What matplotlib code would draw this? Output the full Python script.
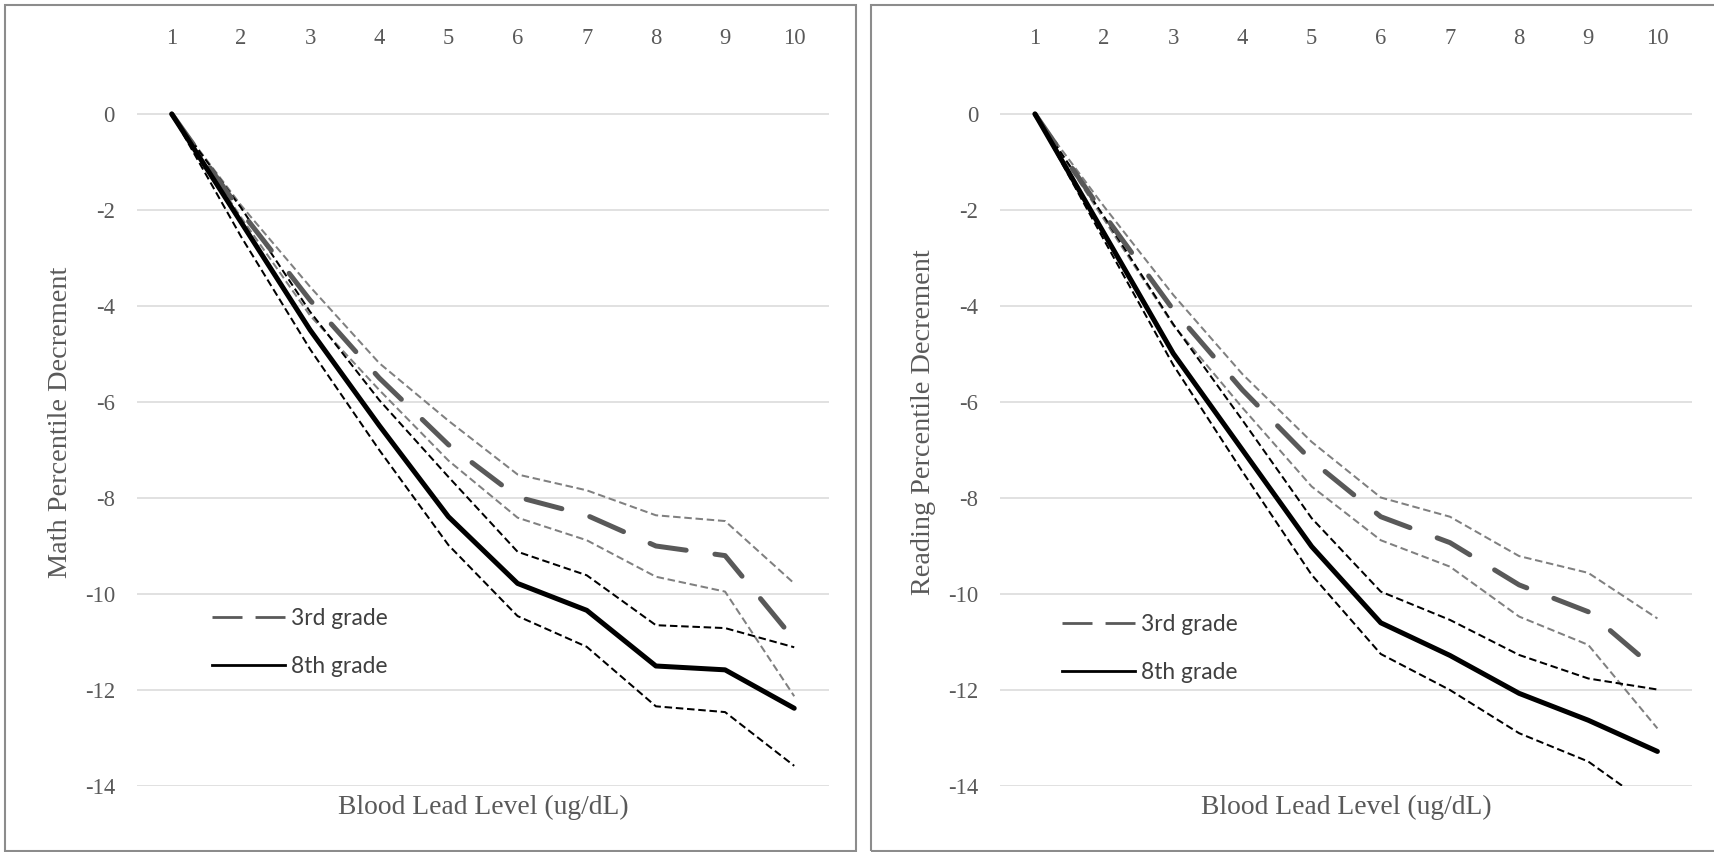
import matplotlib
matplotlib.use("Agg")
import matplotlib.pyplot as plt
from matplotlib.lines import Line2D
from matplotlib.patches import Rectangle

# values
lead_levels = [1, 2, 3, 4, 5, 6, 7, 8, 9, 10]

math_3rd = [0, -2.03, -3.88, -5.5, -6.89, -7.98, -8.36, -9.0, -9.2, -10.95]
math_3rd_hi = [0, -1.9, -3.6, -5.19, -6.39, -7.51, -7.84, -8.36, -8.48, -9.78]
math_3rd_lo = [0, -2.15, -4.2, -5.75, -7.22, -8.41, -8.88, -9.64, -9.95, -12.13]
math_8th = [0, -2.25, -4.5, -6.49, -8.39, -9.78, -10.34, -11.5, -11.58, -12.38]
math_8th_hi = [0, -1.95, -4.12, -5.96, -7.56, -9.12, -9.61, -10.65, -10.71, -11.11]
math_8th_lo = [0, -2.55, -4.9, -7.0, -8.98, -10.46, -11.1, -12.34, -12.46, -13.58]

read_3rd = [0, -2.1, -4.08, -5.75, -7.22, -8.39, -8.93, -9.81, -10.37, -11.6]
read_3rd_hi = [0, -1.93, -3.77, -5.42, -6.83, -7.99, -8.39, -9.21, -9.56, -10.51]
read_3rd_lo = [0, -2.2, -4.4, -6.12, -7.76, -8.88, -9.43, -10.47, -11.06, -12.8]
read_8th = [0, -2.49, -4.99, -7.0, -9.01, -10.6, -11.28, -12.07, -12.63, -13.28]
read_8th_hi = [0, -2.14, -4.38, -6.38, -8.42, -9.95, -10.54, -11.27, -11.76, -11.99]
read_8th_lo = [0, -2.63, -5.23, -7.45, -9.6, -11.25, -12.0, -12.9, -13.49, -14.52]

y_ticks = [0, -2, -4, -6, -8, -10, -12, -14]
y_tick_labels = ["0", "-2", "-4", "-6", "-8", "-10", "-12", "-14"]
legend_labels = ["3rd grade", "8th grade"]
x_title = "Blood Lead Level (ug/dL)"

W, H = 1715, 852
plt.rcParams['font.family'] = 'Liberation Serif'
plt.rcParams['lines.scale_dashes'] = False

fig = plt.figure(figsize=(W / 100, H / 100), dpi=100)

text_gray = '#595959'


def draw_panel(ax, g3, g3_hi, g3_lo, g8, g8_hi, g8_lo, ylabel, ylabel_x, legend_xy):
    ax.set_xlim(0.5, 10.5)
    ax.set_ylim(-14, 1.0)
    for s in ax.spines.values():
        s.set_visible(False)
    ax.set_yticks(y_ticks)
    ax.set_yticklabels(y_tick_labels)
    ax.set_xticks(lead_levels)
    ax.grid(axis='y', color='#d9d9d9', lw=1.1)
    ax.set_axisbelow(True)
    ax.tick_params(axis='x', top=True, labeltop=True, bottom=False, labelbottom=False,
                   length=0, pad=12, labelcolor=text_gray, labelsize=16.3)
    ax.tick_params(axis='y', length=0, pad=16, labelcolor=text_gray, labelsize=16.3)

    # confidence bands (thin dashed)
    ax.plot(lead_levels, g3_hi, color='#808080', lw=1.45, dashes=(5.4, 2.7))
    ax.plot(lead_levels, g3_lo, color='#808080', lw=1.45, dashes=(5.4, 2.7))
    ax.plot(lead_levels, g8_hi, color='black', lw=1.45, dashes=(5.4, 2.7))
    ax.plot(lead_levels, g8_lo, color='black', lw=1.45, dashes=(5.4, 2.7))

    # estimates
    ax.plot(lead_levels, g3, color='#595959', lw=3.6, dashes=(26.6, 20.9),
            dash_capstyle='round', dash_joinstyle='round')
    ax.plot(lead_levels, g8, color='black', lw=3.6,
            solid_capstyle='round', solid_joinstyle='round')

    ax.set_xlabel(x_title, fontsize=19.8, color=text_gray, va='center')
    ax.xaxis.set_label_coords(0.5, -0.0292)
    ax.set_ylabel(ylabel, fontsize=20.3, color=text_gray, va='center')
    ax.yaxis.set_label_coords(ylabel_x, 0.505)

    handles = [Line2D([], [], color='#595959', lw=2.0, dashes=(21.6, 9.4)),
               Line2D([], [], color='black', lw=2.0)]
    ax.legend(handles, legend_labels, loc='upper left', bbox_to_anchor=legend_xy,
              frameon=False, borderpad=0, borderaxespad=0, handlelength=3.2,
              handletextpad=0.3, labelspacing=1.2, labelcolor='#404040',
              prop={'family': 'Lato', 'size': 16.4})


ax_w = 691.6 / W
ax_h = 720 / H
ax_b = 66 / H
ax1 = fig.add_axes([137.2 / W, ax_b, ax_w, ax_h])
ax2 = fig.add_axes([1000.4 / W, ax_b, ax_w, ax_h])

draw_panel(ax1, math_3rd, math_3rd_hi, math_3rd_lo, math_8th, math_8th_hi, math_8th_lo,
           "Math Percentile Decrement", -0.1116, (0.1077, 0.2473))
draw_panel(ax2, read_3rd, read_3rd_hi, read_3rd_lo, read_8th, read_8th_hi, read_8th_lo,
           "Reading Percentile Decrement", -0.1105, (0.0886, 0.239))

# panel borders
fig.add_artist(Rectangle((5 / W, 1 / H), 851 / W, 846 / H, transform=fig.transFigure,
                         fill=False, edgecolor='#8c8c8c', lw=1.5))
fig.add_artist(Rectangle((871 / W, 1 / H), 849 / W, 846 / H, transform=fig.transFigure,
                         fill=False, edgecolor='#8c8c8c', lw=1.5))

fig.savefig("out.png", dpi=100, facecolor='white')
